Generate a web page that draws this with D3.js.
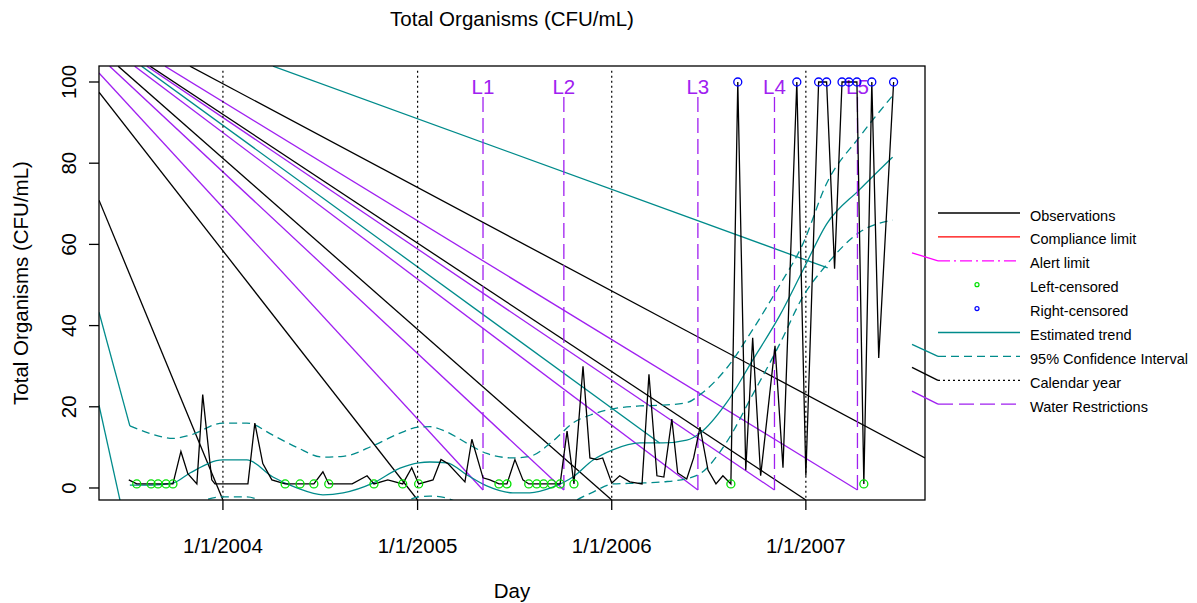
<!DOCTYPE html>
<html><head><meta charset="utf-8">
<script src="https://cdn.jsdelivr.net/npm/d3@7"></script>
<style>body{margin:0;background:#fff}svg{display:block;font-family:"Liberation Sans",Arial,sans-serif}</style>
</head><body><svg id="c" width="1197" height="603"></svg>
<script>
// ---------- data ----------
const obsDates = ["2003-07-08","2003-07-23","2003-08-19","2003-09-01","2003-09-16","2003-09-29","2003-10-14","2003-10-27","2003-11-13","2003-11-24","2003-12-11","2003-12-17","2004-02-17","2004-03-01","2004-03-16","2004-04-02","2004-04-27","2004-05-25","2004-06-20","2004-07-07","2004-07-18","2004-08-31","2004-09-28","2004-10-11","2004-11-06","2004-12-04","2004-12-21","2005-01-03","2005-01-30","2005-02-14","2005-02-27","2005-03-31","2005-04-13","2005-05-04","2005-05-17","2005-06-03","2005-06-18","2005-07-03","2005-07-18","2005-07-29","2005-08-13","2005-08-26","2005-09-10","2005-09-26","2005-10-09","2005-10-22","2005-11-08","2005-11-21","2005-12-04","2005-12-15","2006-01-01","2006-01-16","2006-02-04","2006-02-27","2006-03-12","2006-03-27","2006-04-09","2006-04-24","2006-05-05","2006-05-22","2006-06-04","2006-06-16","2006-07-01","2006-07-16","2006-07-29","2006-08-13","2006-08-26","2006-09-10","2006-09-23","2006-10-08","2006-11-04","2006-11-19","2006-12-15","2007-01-01","2007-01-25","2007-02-09","2007-02-24","2007-03-10","2007-03-23","2007-04-07","2007-04-20","2007-05-05","2007-05-18","2007-06-15"];
const obsValues = [2,1,1,1,1,1,9,3.5,1,23,2,1,1,16,6,2,1,1,1,4,1,1,3,1,2,1,5,1,2,7,6,1.5,12,2.5,2,1,1,7,2,1,1,1,1,1,14,1,30,7.4,7,7.4,1.2,3,1.5,1,28,3,2.7,17,3.7,2.2,7.4,15,4.4,1,3,1,100,4.4,37,3,35,5,100,3,100,100,54,100,100,100,1,100,32,100];
const obsCensor = ["","L","L","L","L","L","","","","","","","","","","","L","L","L","","L","","","L","","L","","L","","","","","","","","L","L","","","L","L","L","L","L","","L","","","","","","","","","","","","","","","","","","","","L","R","","","","","","R","","R","R","","R","R","R","L","R","","R"];

const gridDates = ["2003-07-10","2003-08-20","2003-09-29","2003-10-31","2004-01-01","2004-02-15","2004-04-04","2004-05-19","2004-07-07","2004-08-14","2004-10-09","2004-11-29","2005-01-03","2005-01-24","2005-02-25","2005-04-04","2005-05-11","2005-06-29","2005-07-31","2005-09-12","2005-10-20","2005-11-27","2006-01-03","2006-02-23","2006-04-07","2006-05-22","2006-06-16","2006-08-05","2006-09-23","2006-11-13","2006-12-26","2007-02-09","2007-04-12","2007-06-13"];
const trendValues = [0.7,0.7,1.2,3.7,6.9,6.9,2.7,0,-1.7,-1.2,1.2,4.9,6.2,6.4,6.2,3.2,0.5,-1.2,-1.2,0.2,2.7,6.9,9.4,11.1,11.1,11.8,13.5,21,31.5,42.5,53.5,65,73.5,81.5];
const upperCI = [15.3,13.3,12.2,13,16,16,13,10,7.6,7.8,10.4,13.5,15,15.1,13.8,11,8.5,7.4,7.8,11.5,16,18.2,19.5,20.2,20.4,21,23,29.5,39,50,60,75,86.5,96.6];
const lowerCI = [-14,-10,-7,-4.5,-2.2,-2.2,-5,-9,-11,-11,-8,-4,-2.2,-2,-2.5,-5,-8,-10,-10,-7,-3.5,-1,1,1.2,1.5,2.3,3.5,11.3,23,35.5,47,55,63,66];

const yearTicks = ["2004-01-01","2005-01-01","2006-01-01","2007-01-01"];
const yearTickLabels = ["1/1/2004","1/1/2005","1/1/2006","1/1/2007"];
const yTicks = [0,20,40,60,80,100];
const restrictionDates = ["2005-05-04","2005-10-03","2006-06-12","2006-11-03","2007-04-08"];
const restrictionLabels = ["L1","L2","L3","L4","L5"];

// stray connector lines present in the original figure: [startDate, startValue, endDate, endValue]
const strayBlack = [["2003-05-13",70.9,"2004-01-01",-2.96],["2003-05-13",97.5,"2005-01-01",-2.96],["2003-06-18",103.9,"2006-01-01",-2.96],["2003-08-17",103.9,"2007-01-01",-2.96],["2003-10-31",103.9,"2007-08-13",7.4]];
const strayPurple = [["2003-05-13",102.2,"2005-05-04",-0.5],["2003-06-02",103.9,"2005-10-03",-0.5],["2003-07-19",103.9,"2006-06-12",-0.5],["2003-08-11",103.9,"2006-11-03",-0.5],["2003-09-14",103.9,"2007-04-08",-0.5]];
const strayTeal = [["2003-05-13",43.3,"2003-07-10",15.3],["2003-05-13",20.4,"2003-07-10",-14],["2003-08-01",103.9,"2006-04-01",11.1],["2004-04-04",103.9,"2007-02-11",54.2]];

const legendLabels = ["Observations","Compliance limit","Alert limit","Left-censored","Right-censored","Estimated trend","95% Confidence Interval","Calendar year","Water Restrictions"];

// ---------- styles ----------
const C = {black:"#000", red:"#FF0000", magenta:"#FF00FF", green:"#00E000", blue:"#0000FF", teal:"#008B8B", purple:"#A020F0"};
const legendStyle = [
  {kind:"line", color:C.black, dash:null},
  {kind:"line", color:C.red, dash:null},
  {kind:"line", color:C.magenta, dash:"12,4,2,4", stray:8},
  {kind:"point", color:C.green},
  {kind:"point", color:C.blue},
  {kind:"line", color:C.teal, dash:null},
  {kind:"line", color:C.teal, dash:"8,5", stray:12},
  {kind:"line", color:C.black, dash:"2,3", stray:13},
  {kind:"line", color:C.purple, dash:"15,6", stray:13}
];

const parse = d3.utcParse("%Y-%m-%d");
const L = 99, R = 925, T = 66, B = 500;
const x = d3.scaleUtc().domain([parse("2003-05-13"), parse("2007-08-13")]).range([L, R]);
const y = d3.scaleLinear().domain([-2.96, 103.94]).range([B, T]);

const svg = d3.select("#c");
svg.append("defs").append("clipPath").attr("id","clip").append("rect")
  .attr("x",L).attr("y",T).attr("width",R-L).attr("height",B-T);
const plot = svg.append("g").attr("clip-path","url(#clip)");

const lw = 1.3;
function stray(arr, color){
  plot.selectAll(null).data(arr).enter().append("line")
    .attr("x1",d=>x(parse(d[0]))).attr("y1",d=>y(d[1]))
    .attr("x2",d=>x(parse(d[2]))).attr("y2",d=>y(d[3]))
    .attr("stroke",color).attr("stroke-width",lw);
}
stray(strayBlack, C.black);
stray(strayPurple, C.purple);
stray(strayTeal, C.teal);

// calendar year lines
plot.selectAll(null).data(yearTicks).enter().append("line")
  .attr("x1",d=>x(parse(d))).attr("x2",d=>x(parse(d)))
  .attr("y1",y(102.8)).attr("y2",B)
  .attr("stroke","#000").attr("stroke-width",1.2).attr("stroke-dasharray","2,3");

// trend & CI
const grid = gridDates.map(parse);
const ln = d3.line().x((d,i)=>x(grid[i])).y(d=>y(d)).curve(d3.curveMonotoneX);
plot.append("path").attr("d",ln(upperCI)).attr("fill","none").attr("stroke",C.teal).attr("stroke-width",lw).attr("stroke-dasharray","8,5");
plot.append("path").attr("d",ln(lowerCI)).attr("fill","none").attr("stroke",C.teal).attr("stroke-width",lw).attr("stroke-dasharray","8,5");
plot.append("path").attr("d",ln(trendValues)).attr("fill","none").attr("stroke",C.teal).attr("stroke-width",lw);

// water restrictions
restrictionDates.forEach((d,i)=>{
  const xx = x(parse(d));
  plot.append("line").attr("x1",xx).attr("x2",xx).attr("y1",y(-0.5)).attr("y2",y(97))
    .attr("stroke",C.purple).attr("stroke-width",lw).attr("stroke-dasharray","15,6");
  plot.append("text").attr("x",xx).attr("y",y(99)).attr("text-anchor","middle")
    .attr("dominant-baseline","central").attr("font-size",20.5).attr("fill",C.purple).text(restrictionLabels[i]);
});

// observations
const obs = obsDates.map((d,i)=>({t:parse(d), v:obsValues[i], c:obsCensor[i]}));
plot.append("path").attr("d",d3.line().x(d=>x(d.t)).y(d=>y(d.v))(obs))
  .attr("fill","none").attr("stroke","#000").attr("stroke-width",lw).attr("stroke-linejoin","miter");
plot.selectAll(null).data(obs.filter(d=>d.c)).enter().append("circle")
  .attr("cx",d=>x(d.t)).attr("cy",d=>y(d.v)).attr("r",4)
  .attr("fill","none").attr("stroke",d=>d.c==="L"?C.green:C.blue).attr("stroke-width",1.3);

// frame
svg.append("rect").attr("x",L).attr("y",T).attr("width",R-L).attr("height",B-T)
  .attr("fill","none").attr("stroke","#000").attr("stroke-width",1.3);

// axes
const fs = 20.5;
yearTicks.forEach((d,i)=>{
  const xx = x(parse(d));
  svg.append("line").attr("x1",xx).attr("x2",xx).attr("y1",B).attr("y2",B+10).attr("stroke","#000").attr("stroke-width",1.3);
  svg.append("text").attr("x",xx).attr("y",545).attr("text-anchor","middle").attr("dominant-baseline","central")
    .attr("font-size",fs).text(yearTickLabels[i]);
});
yTicks.forEach(v=>{
  const yy = y(v);
  svg.append("line").attr("x1",L-10).attr("x2",L).attr("y1",yy).attr("y2",yy).attr("stroke","#000").attr("stroke-width",1.3);
  svg.append("text").attr("transform",`translate(68,${yy}) rotate(-90)`).attr("text-anchor","middle")
    .attr("dominant-baseline","central").attr("font-size",fs).text(v);
});
svg.append("text").attr("x",512).attr("y",590).attr("text-anchor","middle").attr("dominant-baseline","central").attr("font-size",fs).text("Day");
svg.append("text").attr("transform","translate(20,283) rotate(-90)").attr("text-anchor","middle").attr("dominant-baseline","central").attr("font-size",fs).text("Total Organisms (CFU/mL)");
svg.append("text").attr("x",512).attr("y",18).attr("text-anchor","middle").attr("dominant-baseline","central").attr("font-size",fs).text("Total Organisms (CFU/mL)");

// legend
const lg = svg.append("g");
legendLabels.forEach((lab,i)=>{
  const ry = 215.5 + i*23.9, ly = ry - 2.5, s = legendStyle[i];
  if (s.kind==="line"){
    lg.append("line").attr("x1",938).attr("x2",1020).attr("y1",ly).attr("y2",ly)
      .attr("stroke",s.color).attr("stroke-width",lw).attr("stroke-dasharray",s.dash);
    if (s.stray) lg.append("line").attr("x1",912).attr("y1",ly-s.stray).attr("x2",938).attr("y2",ly)
      .attr("stroke",s.color).attr("stroke-width",lw);
  } else {
    lg.append("circle").attr("cx",977).attr("cy",ly).attr("r",2).attr("fill","none").attr("stroke",s.color).attr("stroke-width",1.2);
  }
  lg.append("text").attr("x",1030).attr("y",ry).attr("dominant-baseline","central").attr("font-size",14.5).text(lab);
});
</script></body></html>
